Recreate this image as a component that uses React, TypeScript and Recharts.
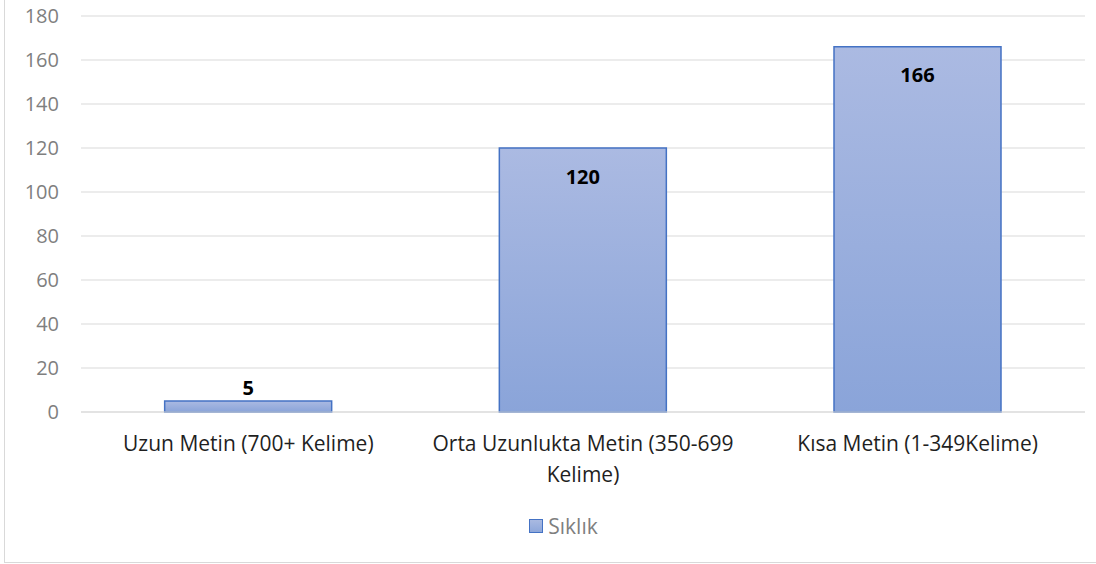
import { BarChart, Bar, XAxis, YAxis, CartesianGrid, Legend, LabelList } from 'recharts';

// Metin uzunluğu kategorileri ve sıklıkları
const categories = ['Uzun Metin (700+ Kelime)', 'Orta Uzunlukta Metin (350-699 Kelime)', 'Kısa Metin (1-349Kelime)'];
const frequencies = [5, 120, 166];
const yTicks = [0, 20, 40, 60, 80, 100, 120, 140, 160, 180];
const seriesName = 'Sıklık';

const data = categories.map((name, i) => ({ name, value: frequencies[i] }));

const FONT = '"Open Sans", sans-serif';
const TICK_FONT_SIZE = 21;

// wrap words to a max width using canvas text measurement
let ctx: CanvasRenderingContext2D | null = null;
const wrapWords = (text: string, maxWidth: number) => {
  if (!ctx) ctx = document.createElement('canvas').getContext('2d');
  if (!ctx) return [text];
  ctx.font = `${TICK_FONT_SIZE}px ${FONT}`;
  const lines: string[] = [];
  let cur = '';
  text.split(' ').forEach(w => {
    const next = cur ? `${cur} ${w}` : w;
    if (cur && ctx!.measureText(next).width > maxWidth) {
      lines.push(cur);
      cur = w;
    } else {
      cur = next;
    }
  });
  if (cur) lines.push(cur);
  return lines;
};

const CategoryTick = ({ x, y, payload }: any) => {
  const lines = wrapWords(payload.value, 325);
  return (
    <text x={x} y={y} textAnchor="middle" fill="#1f1f1f" fontSize={TICK_FONT_SIZE} fontFamily={FONT}>
      {lines.map((line, i) => (
        <tspan key={i} x={x} dy={i === 0 ? 31 : 31}>
          {line}
        </tspan>
      ))}
    </text>
  );
};

const renderValueLabel = (props: any) => {
  const { x, y, width, height, value } = props;
  const cx = x + width / 2;
  // small bars get the label above, others inside near the top
  const ly = height < 40 ? y - 14 : y + 28;
  return (
    <text
      x={cx}
      y={ly}
      textAnchor="middle"
      dominantBaseline="central"
      fontSize={20}
      fontWeight="bold"
      fontFamily={FONT}
      fill="#000"
    >
      {value}
    </text>
  );
};

const renderLegend = () => (
  <div style={{ display: 'flex', justifyContent: 'center', alignItems: 'center', fontFamily: FONT, paddingLeft: 42 }}>
    <span
      style={{
        width: 12,
        height: 12,
        border: '1.5px solid #4472c4',
        background: 'linear-gradient(#a9b9e1, #8ea7da)',
        marginRight: 5,
      }}
    />
    <span style={{ color: '#7f7f7f', fontSize: 21 }}>{seriesName}</span>
  </div>
);

export default function App() {
  return (
    <div style={{ position: 'absolute', left: 0, top: 0, width: 1096, height: 564, background: '#fff' }}>
      <div
        style={{
          position: 'absolute',
          left: 4,
          top: 0,
          right: 0,
          bottom: 1,
          borderLeft: '1.5px solid #d9d9d9',
          borderBottom: '1.5px solid #d9d9d9',
        }}
      />
      <BarChart
        width={1096}
        height={564}
        data={data}
        margin={{ top: 16, right: 11, left: 0, bottom: 0 }}
        barCategoryGap="25%"
      >
        <defs>
          <linearGradient id="barFill" x1="0" y1="0" x2="0" y2="1">
            <stop offset="0%" stopColor="#abbae2" />
            <stop offset="100%" stopColor="#8aa4d9" />
          </linearGradient>
        </defs>
        <CartesianGrid vertical={false} stroke="#d9d9d9" strokeWidth={1.2} />
        <XAxis
          dataKey="name"
          height={100}
          tickLine={false}
          axisLine={{ stroke: '#d9d9d9', strokeWidth: 1.2 }}
          tick={<CategoryTick />}
          interval={0}
        />
        <YAxis
          width={81}
          domain={[0, 180]}
          ticks={yTicks}
          axisLine={false}
          tickLine={false}
          tickMargin={16}
          tick={{ fill: '#7f7f7f', fontSize: 20, fontFamily: FONT }}
        />
        <Legend verticalAlign="bottom" height={52} content={renderLegend} />
        <Bar
          dataKey="value"
          name={seriesName}
          fill="url(#barFill)"
          stroke="#4472c4"
          strokeWidth={1.5}
          isAnimationActive={false}
        >
          <LabelList dataKey="value" content={renderValueLabel} />
        </Bar>
      </BarChart>
    </div>
  );
}
